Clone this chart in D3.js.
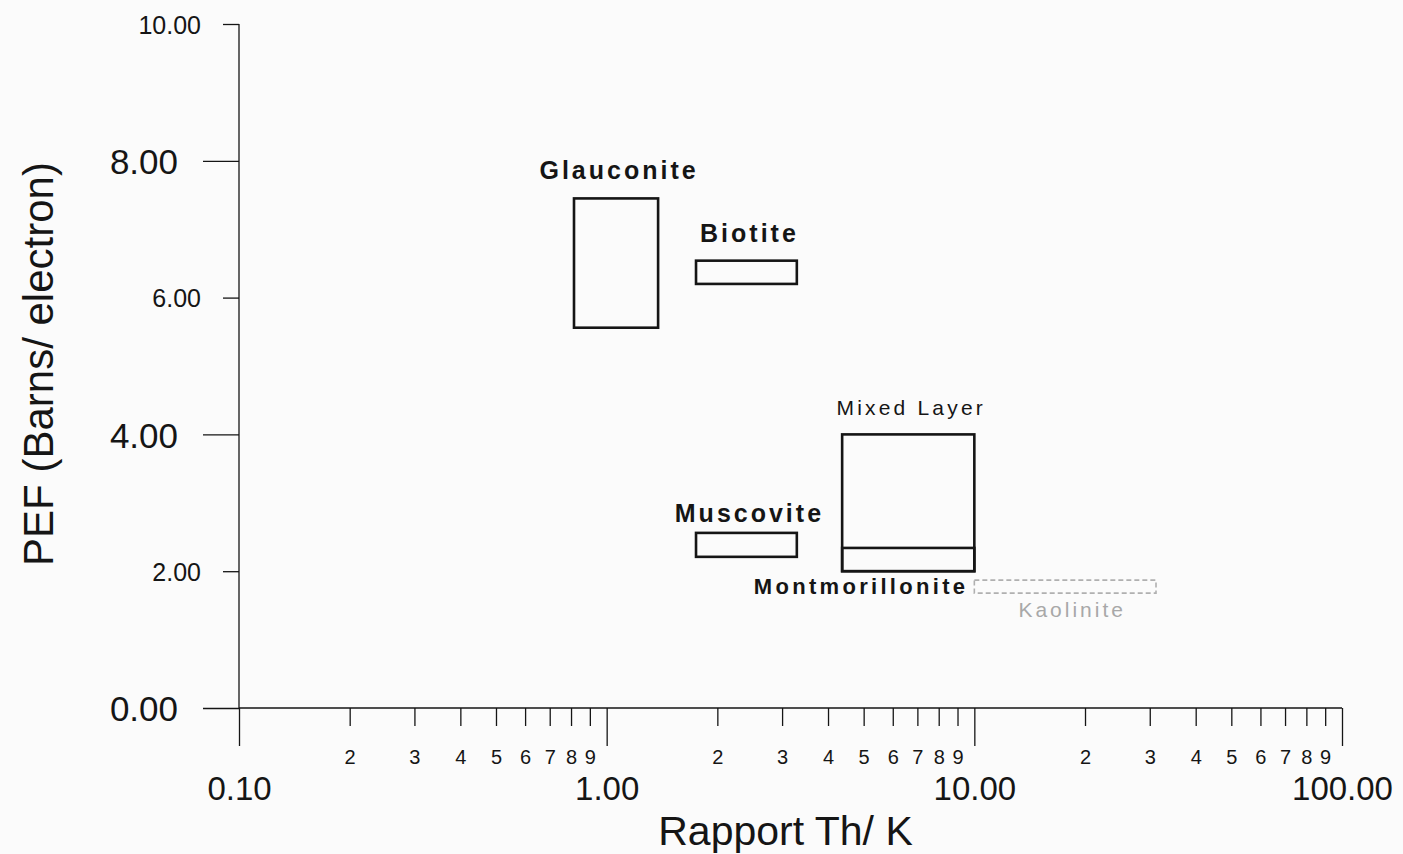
<!DOCTYPE html>
<html>
<head>
<meta charset="utf-8">
<script src="https://cdn.jsdelivr.net/npm/d3@7"></script>
<style>
  html, body { margin: 0; padding: 0; background: #fbfbfb; }
  svg { display: block; font-family: "Liberation Sans", Arial, sans-serif; }
</style>
</head>
<body>
<div id="content-box"></div>
<script>
// mineral zones, Th/K ratio (log) vs PEF
var minerals = ["Glauconite", "Biotite", "Muscovite", "Mixed Layer", "Montmorillonite", "Kaolinite"];
var thkMin  = [0.815, 1.75, 1.75, 4.37, 4.37, 10.0];
var thkMax  = [1.38, 3.29, 3.29, 10.0, 10.0, 31.2];
var pefMin  = [5.56, 6.20, 2.21, 2.00, 2.00, 1.68];
var pefMax  = [7.45, 6.54, 2.56, 4.00, 2.34, 1.87];

var xMajorTicks = [0.1, 1, 10, 100];
var xMinorTicks = [2,3,4,5,6,7,8,9, 20,30,40,50,60,70,80,90, 200,300,400,500,600,700,800,900].map(function(d){ return d / 10; });
var yBigTicks = [0, 4, 8];
var ySmallTicks = [2, 6, 10];

var width = 1403, height = 854;

var x = d3.scaleLog().domain([0.1, 100]).range([239, 1342]);
var y = d3.scaleLinear().domain([0, 10]).range([708, 24]);

var svg = d3.select("#content-box").append("svg")
    .attr("width", width)
    .attr("height", height);

var ink = "#151515";

// axis lines
svg.append("line")
    .attr("x1", x(0.1)).attr("x2", x(0.1))
    .attr("y1", y(10)).attr("y2", y(0))
    .attr("stroke", ink).attr("stroke-width", 1.3);
svg.append("line")
    .attr("x1", x(0.1)).attr("x2", x(100))
    .attr("y1", y(0)).attr("y2", y(0))
    .attr("stroke", ink).attr("stroke-width", 1.3);

// x axis, decades
var xMajor = svg.append("g")
    .attr("transform", "translate(0," + y(0) + ")")
    .call(d3.axisBottom(x).tickValues(xMajorTicks).tickSizeInner(38).tickSizeOuter(0)
      .tickFormat(d3.format(".2f")));
xMajor.select(".domain").remove();
xMajor.selectAll("line").attr("stroke", ink).attr("stroke-width", 1.3);
xMajor.selectAll("text")
    .attr("y", 92).attr("dy", 0)
    .attr("fill", ink)
    .style("font-size", "33px");

// x axis, minor ticks
var xMinor = svg.append("g")
    .attr("transform", "translate(0," + y(0) + ")")
    .call(d3.axisBottom(x).tickValues(xMinorTicks).tickSizeInner(18).tickSizeOuter(0)
      .tickFormat(function(d){ return String(Math.round(d / Math.pow(10, Math.floor(Math.log10(d) + 1e-9)))); }));
xMinor.select(".domain").remove();
xMinor.selectAll("line").attr("stroke", ink).attr("stroke-width", 1.3);
xMinor.selectAll("text")
    .attr("y", 56).attr("dy", 0)
    .attr("fill", ink)
    .style("font-size", "20px");

// y axis, large labels
var yBig = svg.append("g")
    .attr("transform", "translate(" + x(0.1) + ",0)")
    .call(d3.axisLeft(y).tickValues(yBigTicks).tickSizeInner(36).tickSizeOuter(0)
      .tickFormat(d3.format(".2f")));
yBig.select(".domain").remove();
yBig.selectAll("line").attr("stroke", ink).attr("stroke-width", 1.3);
yBig.selectAll("text")
    .attr("x", -61).attr("dy", "0.36em")
    .attr("fill", ink)
    .style("font-size", "35px");

// y axis, small labels
var ySmall = svg.append("g")
    .attr("transform", "translate(" + x(0.1) + ",0)")
    .call(d3.axisLeft(y).tickValues(ySmallTicks).tickSizeInner(16).tickSizeOuter(0)
      .tickFormat(d3.format(".2f")));
ySmall.select(".domain").remove();
ySmall.selectAll("line").attr("stroke", ink).attr("stroke-width", 1.3);
ySmall.selectAll("text")
    .attr("x", -38).attr("dy", "0.36em")
    .attr("fill", ink)
    .style("font-size", "25px");

// axis titles
svg.append("text")
    .attr("x", (x(0.1) + x(100)) / 2 - 5)
    .attr("y", 845)
    .attr("text-anchor", "middle")
    .attr("fill", ink)
    .style("font-size", "41px")
    .text("Rapport Th/ K");

svg.append("text")
    .attr("transform", "translate(53," + ((y(0) + y(10)) / 2 - 2) + ") rotate(-90)")
    .attr("text-anchor", "middle")
    .attr("fill", ink)
    .style("font-size", "42px")
    .text("PEF (Barns/ electron)");

// boxes
var zones = minerals.map(function(m, i) {
  return {name: m, x0: thkMin[i], x1: thkMax[i], y0: pefMin[i], y1: pefMax[i]};
});

svg.selectAll("rect.zone")
    .data(zones)
    .enter().append("rect")
    .attr("class", "zone")
    .attr("x", function(d) { return x(d.x0); })
    .attr("y", function(d) { return y(d.y1); })
    .attr("width", function(d) { return x(d.x1) - x(d.x0); })
    .attr("height", function(d) { return y(d.y0) - y(d.y1); })
    .attr("fill", "none")
    .attr("stroke", function(d) { return d.name === "Kaolinite" ? "#b0b0b0" : ink; })
    .attr("stroke-dasharray", function(d) { return d.name === "Kaolinite" ? "5,3" : null; })
    .attr("stroke-width", function(d) { return d.name === "Kaolinite" ? 1.6 : 2.6; });

// labels
function labelSize(d) {
  if (d.name === "Mixed Layer" || d.name === "Kaolinite") return "21px";
  if (d.name === "Montmorillonite") return "22px";
  return "25px";
}
function labelSpacing(d) {
  if (d.name === "Mixed Layer") return "3.2px";
  if (d.name === "Kaolinite") return "3px";
  if (d.name === "Montmorillonite") return "3.3px";
  return "3px";
}

svg.selectAll("text.zlabel")
    .data(zones)
    .enter().append("text")
    .attr("class", "zlabel")
    .attr("x", function(d) {
      if (d.name === "Montmorillonite") return x(d.x1) - 6;
      return (x(d.x0) + x(d.x1)) / 2 + (d.name === "Kaolinite" ? 7 : 3);
    })
    .attr("y", function(d) {
      if (d.name === "Montmorillonite") return y(d.y0) + 23;
      if (d.name === "Kaolinite") return y(d.y0) + 24;
      if (d.name === "Muscovite") return y(d.y1) - 11;
      return y(d.y1) - 19;
    })
    .attr("text-anchor", function(d) { return d.name === "Montmorillonite" ? "end" : "middle"; })
    .attr("fill", function(d) { return d.name === "Kaolinite" ? "#a8a8a8" : ink; })
    .style("font-weight", function(d) { return (d.name === "Mixed Layer" || d.name === "Kaolinite") ? "normal" : "bold"; })
    .style("font-size", labelSize)
    .style("letter-spacing", labelSpacing)
    .text(function(d) { return d.name; });
</script>
</body>
</html>
